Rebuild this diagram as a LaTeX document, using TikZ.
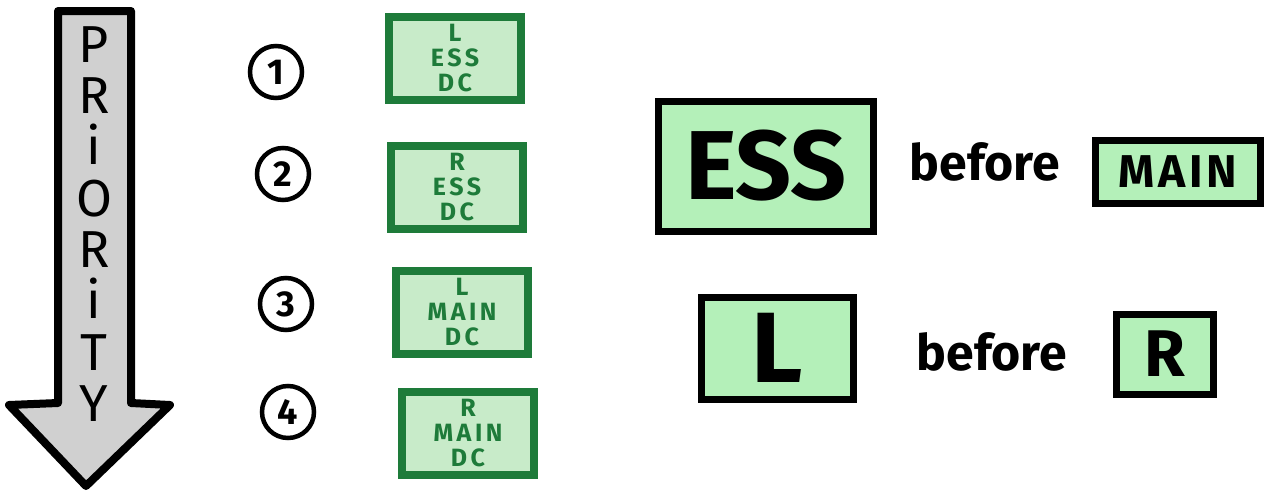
\documentclass[tikz,border=0pt]{standalone}
\usepackage{fontspec}
\setmainfont{Fira Sans}
\usetikzlibrary{positioning}

\definecolor{dcgreen}{HTML}{1E7B3A}
\definecolor{dcfill}{HTML}{C8EBC9}
\definecolor{rulefill}{HTML}{B4F0B9}
\definecolor{arrowgray}{HTML}{D0D0D0}

\tikzset{
  dcbox/.style={draw=dcgreen, fill=dcfill, line width=8pt, minimum width=132pt, minimum height=83pt,
    inner sep=0pt, text=dcgreen, align=center,
    font=\fontsize{25}{25}\selectfont\bfseries\addfontfeatures{LetterSpace=14}},
  num/.style={circle, draw, line width=4.5pt, minimum size=52pt, inner sep=0pt,
    font=\fontsize{36}{36}\selectfont\bfseries},
  rulebox/.style={draw, fill=rulefill, line width=7pt, inner sep=0pt, font=\bfseries},
  word/.style={font=\fontsize{50}{50}\selectfont\bfseries}
}

\begin{document}
\begin{tikzpicture}[x=1pt, y=-1pt]
  \useasboundingbox (0,0) rectangle (1278,493);

  % flecha de prioridad
  \draw[line width=8pt, line join=round, fill=arrowgray]
    (58,11) -- (131,11) -- (131,403) -- (170,405) -- (86,486) -- (9,405) -- (58,403) -- cycle;
  \node (prio) at (94,224) [align=center, inner sep=0pt, font=\fontsize{52}{51.3}\selectfont]
    {P\\R\\i\\O\\R\\i\\T\\Y};

  \node[num] (n1) at (276,72) {1};
  \node[num] (n2) at (283,174) {2};
  \node[num] (n3) at (286,304) {3};
  \node[num] (n4) at (288,412) {4};

  \node[dcbox] (b1) at (455,58) {L\\ESS\\DC};
  \node[dcbox] (b2) at (457,187) {R\\ESS\\DC};
  \node[dcbox] (b3) at (462,312) {L\\MAIN\\DC};
  \node[dcbox] (b4) at (468,433) {R\\MAIN\\DC};

  \node[rulebox, minimum width=215pt, minimum height=130pt] (ess) at (766,166)
    {\fontsize{98}{98}\selectfont ESS};
  \node[word] (bef1) at (985,162) {before};
  \node[rulebox, minimum width=165pt, minimum height=63pt] (main) at (1178,172)
    {\fontsize{46}{46}\selectfont\addfontfeatures{LetterSpace=8}MAIN};

  \node[rulebox, minimum width=152pt, minimum height=102pt] (left) at (777,348)
    {\fontsize{100}{100}\selectfont L};
  \node[word] (bef2) at (992,352) {before};
  \node[rulebox, minimum width=97pt, minimum height=80pt] (right) at (1165,354)
    {\fontsize{66}{66}\selectfont R};
\end{tikzpicture}
\end{document}
